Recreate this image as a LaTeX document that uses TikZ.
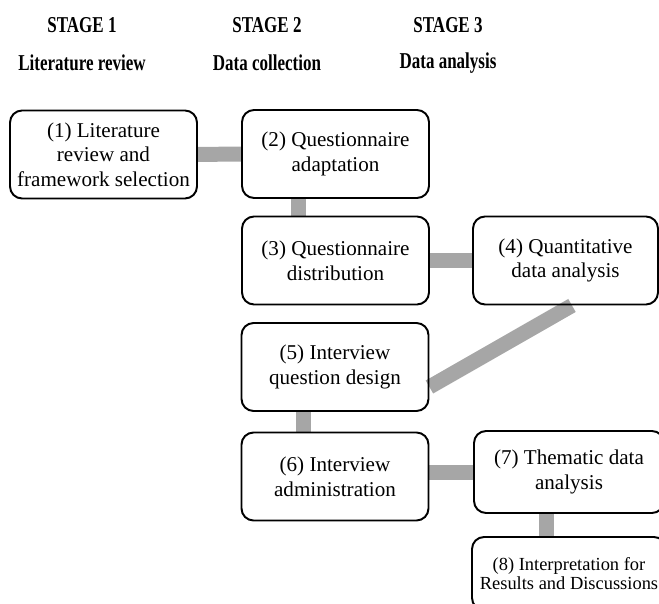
\documentclass[tikz,border=0pt]{standalone}
\usepackage{fontspec}
\setmainfont{Liberation Serif}
\newfontfamily\headfont[FakeStretch=0.75]{Liberation Serif}
\usetikzlibrary{backgrounds}
\definecolor{linkgray}{HTML}{A6A6A6}
\tikzset{
  box/.style={draw, line width=1.1pt, rounded corners=0.24cm, align=center, inner sep=0pt,
    minimum width=3.74cm, minimum height=1.76cm, font=\fontsize{12}{14}\selectfont},
  head/.style={font=\headfont\bfseries\fontsize{12.9}{14}\selectfont},
  link/.style={draw=linkgray, line width=0.3cm}
}
\begin{document}
\begin{tikzpicture}[x=0.02cm, y=-0.02cm]
  \useasboundingbox (0,0) rectangle (659,604);
  \clip (0,0) rectangle (659,604);

  \node[head] (s1) at (82,25) {STAGE 1};
  \node[head] (t1) at (82,63) {Literature review};
  \node[head] (s2) at (267,25) {STAGE 2};
  \node[head] (t2) at (267,63) {Data collection};
  \node[head] (s3) at (448,25) {STAGE 3};
  \node[head] (t3) at (448,63) {Data analysis};

  \node[box] (b1) at (103.5,154.5) {(1) Literature\\review and\\framework selection};
  \node[box] (b2) at (335.5,154) {(2) Questionnaire\\adaptation};
  \node[box] (b3) at (335.5,260.5) {(3) Questionnaire\\distribution};
  \node[box, minimum width=3.7cm] (b4) at (565.5,260.5) {(4) Quantitative\\data analysis};
  \node[box] (b5) at (335,367) {(5) Interview\\question design};
  \node[box] (b6) at (335,476.5) {(6) Interview\\administration};
  \node[box, minimum width=3.8cm, minimum height=1.64cm] (b7) at (569,472) {(7) Thematic data\\analysis};
  \node[box, minimum width=3.88cm, minimum height=1.46cm, font=\fontsize{10.5}{10.5}\selectfont] (b8) at (569,573.5)
    {(8) Interpretation for\\Results and Discussions};

  \begin{scope}[on background layer]
    \draw[link] (b1) -- (b2);
    \draw[link] ([xshift=1.14cm]b2.south west) -- ([xshift=1.14cm]b3.north west);
    \draw[link] (b3) -- (b4);
    \draw[link] ([xshift=0.13cm]b4.south) -- ([yshift=-0.4cm]b5.east);
    \draw[link] ([xshift=1.25cm]b5.south west) -- ([xshift=1.25cm]b6.north west);
    \draw[link] (b6.east |- b7.west) -- (b7.west);
    \draw[link] ([xshift=1.47cm]b7.south west) -- ([xshift=1.47cm]b7.south west |- b8.north);
  \end{scope}
\end{tikzpicture}
\end{document}
